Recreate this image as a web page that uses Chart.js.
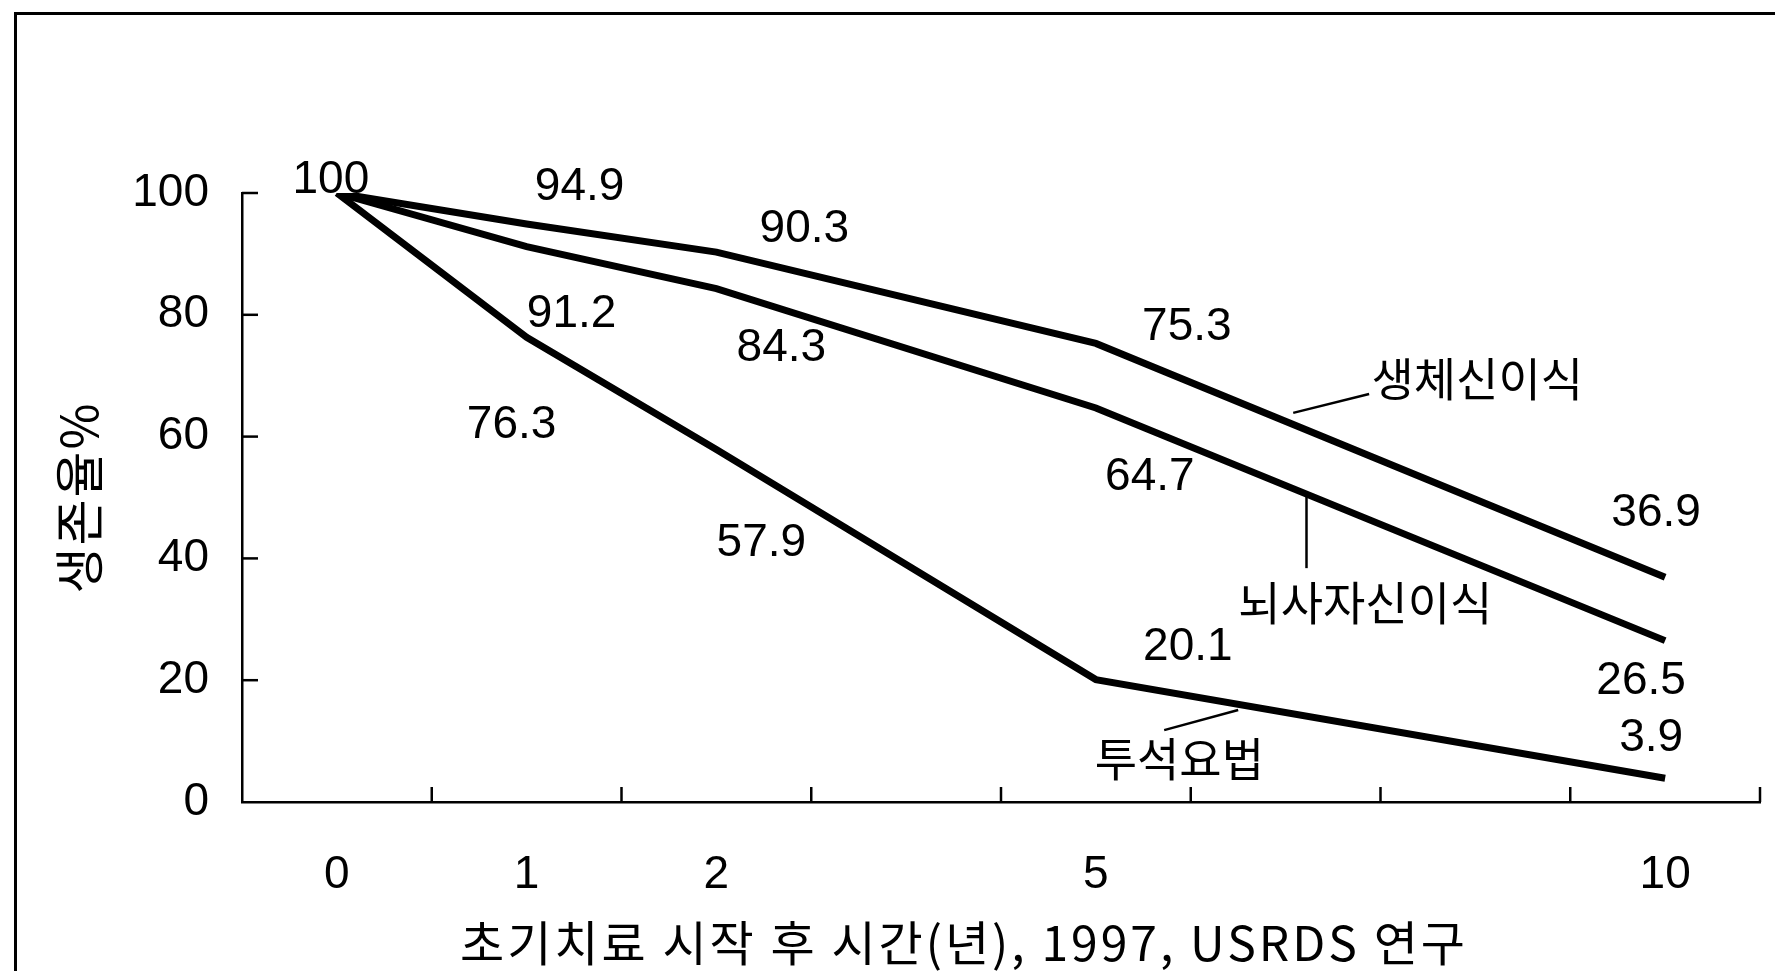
<!DOCTYPE html>
<html>
<head>
<meta charset="utf-8">
<script src="https://cdn.jsdelivr.net/npm/chart.js@4"></script>
<style>
  html, body { margin: 0; padding: 0; background: #fff; }
  #wrap { position: relative; width: 1775px; height: 971px; overflow: hidden; }
  #frame { position: absolute; left: 14px; top: 12px; right: -10px; bottom: -10px;
           border-left: 3px solid #000; border-top: 3px solid #000; pointer-events: none; }
</style>
</head>
<body>
<div id="wrap">
  <canvas id="chart" width="1775" height="971"></canvas>
  <div id="frame"></div>
</div>
<script>
// slots on the x axis (blank slots are just spacing, as in the original figure)
const tickLabels = ['0', '1', '2', '', '5', '', '', '10'];
const years = ['0', '1', '2', '5', '10'];

const living = [100, 94.9, 90.3, 75.3, 36.9];     // 생체신이식
const cadaveric = [100, 91.2, 84.3, 64.7, 26.5];  // 뇌사자신이식
const dialysis = [100, 76.3, 57.9, 20.1, 3.9];    // 투석요법

const seriesNames = ['생체신이식', '뇌사자신이식', '투석요법'];
const xTitle = '초기치료 시작 후 시간(년), 1997, USRDS 연구';
const yTitle = '생존율%';

// pixel offsets of the value labels from their points
const labelOffsets = [
    [[-6, -13], [53, -37], [88, -23], [91, -16], [-9, -64]],
    [null, [45, 68], [65, 60], [54, 69], [-24, 41]],
    [null, [-15, 88], [45, 94], [92, -32], [-14, -40]]
];
// series name labels and leader lines, in (slot index, value) terms
const nameSpots = [[6.01, 69.5], [5.42, 32.8], [4.44, 7.2]];
const leaders = [
    [[5.04, 63.9], [5.44, 67.0]],
    [[5.11, 50.1], [5.11, 38.4]],
    [[4.36, 11.8], [4.75, 15.1]]
];

const toPoints = vals => vals.map((v, i) => ({ x: years[i], y: v }));

const numFont = "46px 'Liberation Sans', Arial, sans-serif";
const korFont = "46px 'Noto Sans CJK KR', sans-serif";

const annotate = {
    id: 'annotate',
    afterDraw(chart) {
        const ctx = chart.ctx;
        const xs = chart.scales.x, ys = chart.scales.y;
        const px = i => xs.getPixelForValue(i);
        ctx.save();
        ctx.strokeStyle = '#000';
        ctx.fillStyle = '#000';

        // inward tick marks
        ctx.lineWidth = 2.5;
        const half = (px(1) - px(0)) / 2;
        for (let i = 1; i <= tickLabels.length; i++) {
            const x = px(i) - half;
            ctx.beginPath();
            ctx.moveTo(x, ys.bottom);
            ctx.lineTo(x, ys.bottom - 15);
            ctx.stroke();
        }
        for (let v = 20; v <= 100; v += 20) {
            const y = ys.getPixelForValue(v);
            ctx.beginPath();
            ctx.moveTo(xs.left, y);
            ctx.lineTo(xs.left + 16, y);
            ctx.stroke();
        }

        // value labels
        ctx.font = numFont;
        ctx.textAlign = 'center';
        ctx.textBaseline = 'middle';
        chart.data.datasets.forEach((ds, i) => {
            const meta = chart.getDatasetMeta(i);
            meta.data.forEach((pt, j) => {
                const off = labelOffsets[i][j];
                if (!off) return;
                ctx.fillText(String(ds.data[j].y), pt.x + off[0], pt.y + off[1]);
            });
        });

        // series names and leader lines
        ctx.font = korFont;
        seriesNames.forEach((name, i) => {
            const [a, b] = leaders[i];
            ctx.lineWidth = 2.5;
            ctx.beginPath();
            ctx.moveTo(px(a[0]), ys.getPixelForValue(a[1]));
            ctx.lineTo(px(b[0]), ys.getPixelForValue(b[1]));
            ctx.stroke();
            const s = nameSpots[i];
            ctx.fillText(name, px(s[0]), ys.getPixelForValue(s[1]));
        });

        // x axis title (sits a little left of the plot centre in the original)
        ctx.font = "48px 'Noto Sans CJK KR', sans-serif";
        ctx.letterSpacing = '3px';
        ctx.fillText(xTitle, (xs.left + xs.right) / 2 - 37, 943);

        // y axis title
        ctx.font = "50px 'Noto Sans CJK KR', sans-serif";
        ctx.letterSpacing = '2px';
        ctx.translate(79, (ys.top + ys.bottom) / 2);
        ctx.rotate(-Math.PI / 2);
        ctx.fillText(yTitle, 0, 0);
        ctx.restore();
    }
};

const lineStyle = {
    borderColor: '#000',
    borderWidth: 7,
    pointRadius: 0,
    tension: 0,
    fill: false,
    spanGaps: true
};

new Chart(document.getElementById('chart'), {
    type: 'line',
    data: {
        labels: tickLabels,
        datasets: [
            { label: seriesNames[0], data: toPoints(living), ...lineStyle },
            { label: seriesNames[1], data: toPoints(cadaveric), ...lineStyle },
            { label: seriesNames[2], data: toPoints(dialysis), ...lineStyle }
        ]
    },
    options: {
        responsive: false,
        animation: false,
        devicePixelRatio: 1,
        layout: { padding: { top: 193, right: 15, left: 0, bottom: 0 } },
        plugins: {
            legend: { display: false },
            tooltip: { enabled: false }
        },
        scales: {
            x: {
                type: 'category',
                offset: true,
                grid: { display: false, drawTicks: false, offset: true },
                border: { display: true, color: '#000', width: 2.5 },
                ticks: {
                    color: '#000',
                    font: { family: "'Liberation Sans', Arial, sans-serif", size: 46 },
                    padding: 46,
                    autoSkip: false,
                    maxRotation: 0
                },
                afterFit: scale => { scale.height = 169; }
            },
            y: {
                min: 0,
                max: 100,
                grid: { display: false, drawTicks: false },
                border: { display: true, color: '#000', width: 2.5 },
                ticks: {
                    stepSize: 20,
                    color: '#000',
                    font: { family: "'Liberation Sans', Arial, sans-serif", size: 46 },
                    padding: 33
                },
                afterFit: scale => { scale.width = 242; }
            }
        }
    },
    plugins: [annotate]
});
</script>
</body>
</html>
